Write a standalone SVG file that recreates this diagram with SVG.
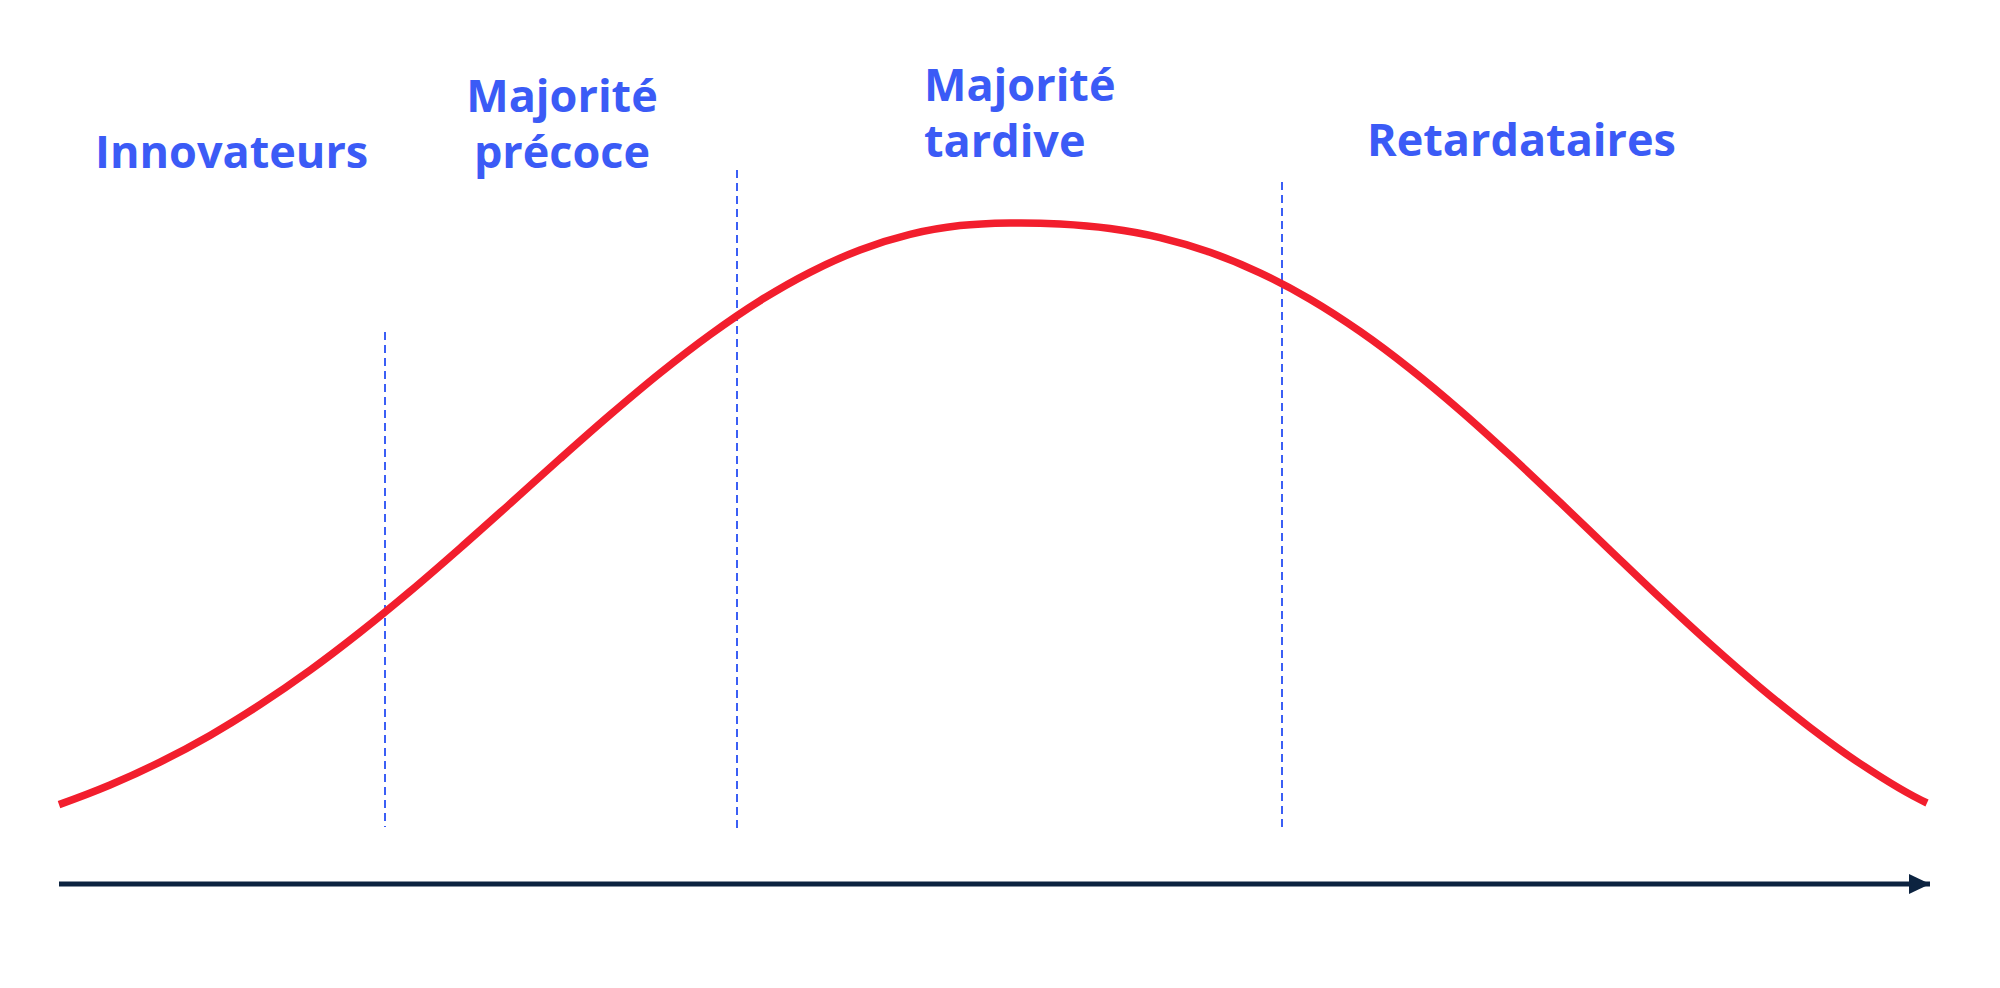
<svg xmlns="http://www.w3.org/2000/svg" width="2000" height="988" viewBox="0 0 2000 988">
  <defs>
    <style>
      .lbl { font-family: "Open Sans", "Noto Sans", "DejaVu Sans", sans-serif; font-weight: 700; font-size: 45px; fill: #3b5bf6; }
      .div { stroke: #3b5ff5; stroke-width: 2; stroke-dasharray: 8 5; fill: none; }
      .curve { stroke: #f21e2d; stroke-width: 7.5; fill: none; }
      .axis { stroke: #0c2340; stroke-width: 5; fill: none; }
    </style>
    <marker id="arrow" markerUnits="userSpaceOnUse" markerWidth="24" markerHeight="22" refX="21" refY="11" orient="auto">
      <polygon points="0,1 21,11 0,21" fill="#0c2340"/>
    </marker>
  </defs>
  <rect width="2000" height="988" fill="#ffffff"/>

  <g id="connectors">
    <line id="axis" class="axis" x1="59" y1="884" x2="1930" y2="884" marker-end="url(#arrow)"/>
    <line id="divider-1" class="div" x1="385" y1="332" x2="385" y2="827"/>
    <line id="divider-2" class="div" x1="737" y1="170" x2="737" y2="832"/>
    <line id="divider-3" class="div" x1="1282" y1="182" x2="1282" y2="829"/>
  </g>

  <g id="curve">
    <path class="curve" d="M59,804.6 C76,798.5 93.17,792.08 110,785 S143.33,770.37 160,762.1 S193.33,744.97 210,735.4 S243.33,715.55 260,704.7 S293.33,682.37 310,670.3 S343.33,645.45 360,632.3 S393.33,605.42 410,591.4 S443.33,562.82 460,548.2 S493.33,518.6 510,503.7 S543.33,473.6 560,458.8 S593.33,429.18 610,414.9 S643.33,386.47 660,373.1 S693.33,346.77 710,334.7 S743.33,311.1 760,300.7 S793.33,280.75 810,272.3 S843.33,256.32 860,250 S893.33,238.47 910,234.4 S943.33,227.5 960,225.6 S993.33,223.27 1010,223 S1043.33,223.08 1060,224 S1093.33,226.23 1110,228.5 S1143.33,233.63 1160,237.6 S1193.33,246.43 1210,252.3 S1243.33,264.98 1260,272.8 S1293.33,289.43 1310,299.2 S1343.33,319.82 1360,331.4 S1393.33,355.55 1410,368.7 S1443.33,395.87 1460,410.3 S1493.33,439.97 1510,455.3 S1543.33,486.48 1560,502.3 S1593.33,534.28 1610,550.2 S1643.33,582.2 1660,597.8 S1693.33,628.88 1710,643.8 S1743.33,673.37 1760,687.3 S1793.33,714.7 1810,727.4 S1840.5,750.53 1860,763.5 S1904.7,792.7 1927,803"/>
  </g>

  <g id="innovateurs">
    <text class="lbl" x="95" y="168">Innovateurs</text>
  </g>
  <g id="majorite-precoce">
    <text class="lbl" x="562" y="112" text-anchor="middle">Majorité</text>
    <text class="lbl" x="562" y="168" text-anchor="middle">précoce</text>
  </g>
  <g id="majorite-tardive">
    <text class="lbl" x="924" y="101">Majorité</text>
    <text class="lbl" x="924" y="157">tardive</text>
  </g>
  <g id="retardataires">
    <text class="lbl" x="1367" y="156">Retardataires</text>
  </g>
</svg>
